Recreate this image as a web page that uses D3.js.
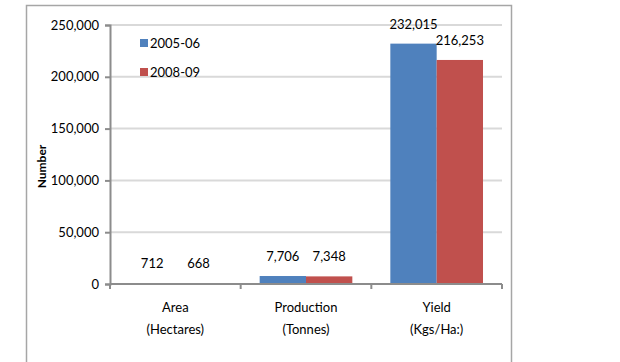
<!DOCTYPE html>
<html>
<head>
<meta charset="utf-8">
<script src="https://cdn.jsdelivr.net/npm/d3@7"></script>
<style>
  html, body { margin: 0; padding: 0; background: #fff; }
  svg { display: block; font-family: Lato, "Open Sans", sans-serif; }
</style>
</head>
<body>
<svg id="chart" width="620" height="362"></svg>
<script>
// Categories (two-line labels) and the two seasons compared
const categories = ["Area|(Hectares)", "Production|(Tonnes)", "Yield|(Kgs/Ha:)"];
const seriesNames = ["2005-06", "2008-09"];
const values2005 = [712, 7706, 232015];
const values2008 = [668, 7348, 216253];
const yTicks = [0, 50000, 100000, 150000, 200000, 250000];
const colors = ["#4f81bd", "#c0504d"];

const svg = d3.select("#chart");

// Outer chart frame
svg.append("rect")
  .attr("x", 26.5).attr("y", 5.5)
  .attr("width", 485).attr("height", 380)
  .attr("fill", "#fff").attr("stroke", "#a6a6a6").attr("stroke-width", 1.5);

const plot = { left: 110, right: 502, top: 25, bottom: 284 };

const x = d3.scaleBand().domain(categories).range([plot.left, plot.right]).paddingInner(0).paddingOuter(0);
const xInner = d3.scaleBand().domain(seriesNames).range([0, x.bandwidth()]).paddingInner(0).paddingOuter(0.41);
const y = d3.scaleLinear().domain([0, 250000]).range([plot.bottom, plot.top]);

// Horizontal gridlines
svg.append("g").selectAll("line").data(yTicks.filter(d => d > 0)).join("line")
  .attr("x1", plot.left).attr("x2", plot.right)
  .attr("y1", d => y(d)).attr("y2", d => y(d))
  .attr("stroke", "#d9d9d9").attr("stroke-width", 2);

// Y axis
const yAxis = svg.append("g").attr("transform", `translate(${plot.left},0)`)
  .call(d3.axisLeft(y).tickValues(yTicks).tickSize(5).tickPadding(6).tickFormat(d3.format(",")));
yAxis.select(".domain").attr("stroke", "#8c8c8c").attr("stroke-width", 2);
yAxis.selectAll(".tick line").attr("stroke", "#8c8c8c").attr("stroke-width", 2);
yAxis.selectAll("text").attr("font-size", 13).attr("fill", "#000")
  .attr("font-family", "Lato, 'Open Sans', sans-serif");

// Bars
const data = categories.map((c, i) => ({ cat: c, vals: [values2005[i], values2008[i]] }));
const groups = svg.append("g").selectAll("g").data(data).join("g")
  .attr("transform", d => `translate(${x(d.cat)},0)`);

groups.selectAll("rect").data(d => d.vals.map((v, j) => ({ v, s: seriesNames[j], j }))).join("rect")
  .attr("x", d => xInner(d.s))
  .attr("width", xInner.bandwidth())
  .attr("y", d => y(d.v))
  .attr("height", d => y(0) - y(d.v))
  .attr("fill", d => colors[d.j]);

// Value labels above bars
groups.selectAll("text.val").data(d => d.vals.map((v, j) => ({ v, s: seriesNames[j], j }))).join("text")
  .attr("class", "val")
  .attr("x", d => xInner(d.s) + xInner.bandwidth() / 2)
  .attr("y", d => y(d.v) - 15)
  .attr("text-anchor", "middle")
  .attr("font-size", 13)
  .attr("fill", "#000")
  .text(d => d3.format(",")(d.v));

// X axis
const xAxis = svg.append("g").attr("transform", `translate(0,${plot.bottom})`);
xAxis.append("line").attr("x1", plot.left).attr("x2", plot.right)
  .attr("stroke", "#8c8c8c").attr("stroke-width", 2);
const boundaries = categories.map(c => x(c)).concat([plot.right]);
xAxis.selectAll("line.tick").data(boundaries).join("line")
  .attr("class", "tick")
  .attr("x1", d => d).attr("x2", d => d).attr("y1", 0).attr("y2", 5)
  .attr("stroke", "#8c8c8c").attr("stroke-width", 2);
const catLabels = xAxis.selectAll("text").data(categories).join("text")
  .attr("x", d => x(d) + x.bandwidth() / 2)
  .attr("y", 28)
  .attr("text-anchor", "middle")
  .attr("font-size", 13)
  .attr("fill", "#000");
catLabels.each(function(d) {
  const parts = d.split("|");
  d3.select(this).selectAll("tspan").data(parts).join("tspan")
    .attr("x", x(d) + x.bandwidth() / 2)
    .attr("dy", (p, i) => i === 0 ? 0 : 22)
    .text(p => p);
});

// Y axis title
svg.append("text")
  .attr("transform", `translate(46,${(plot.top + plot.bottom) / 2 + 12}) rotate(-90)`)
  .attr("text-anchor", "middle")
  .attr("font-size", 12).attr("font-weight", "bold").attr("fill", "#000")
  .text("Number");

// Legend
const legend = svg.append("g").attr("transform", "translate(140,38)");
const li = legend.selectAll("g").data(seriesNames).join("g")
  .attr("transform", (d, i) => `translate(0,${i * 29})`);
li.append("rect").attr("width", 8).attr("height", 8).attr("y", 1).attr("fill", (d, i) => colors[i]);
li.append("text").attr("x", 10).attr("y", 10).attr("font-size", 13).attr("fill", "#000").text(d => d);
</script>
</body>
</html>
